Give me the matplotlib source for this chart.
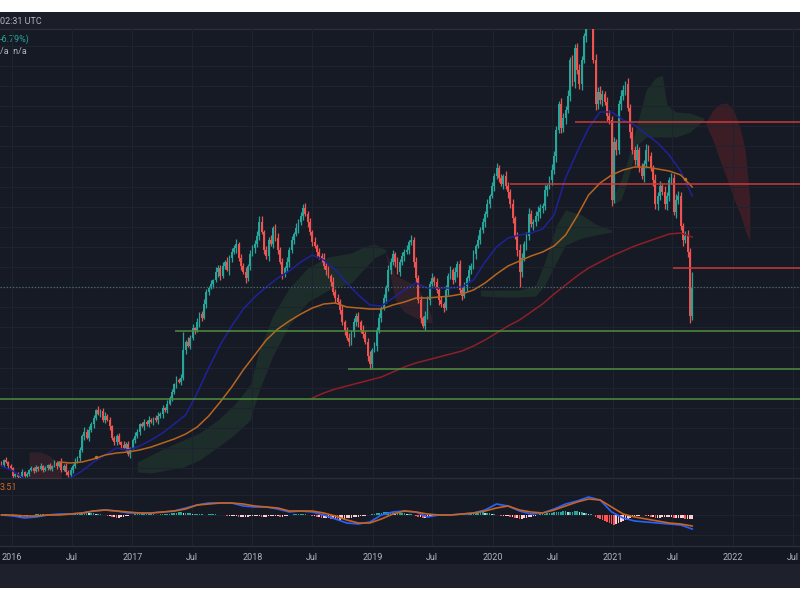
import numpy as np
import matplotlib
matplotlib.use('Agg')
import matplotlib.pyplot as plt
import matplotlib.dates as mdates
from matplotlib.patches import Rectangle

plt.rcParams['font.family'] = ['Liberation Sans Narrow', 'DejaVu Sans Condensed', 'Roboto',
                               'DejaVu Sans']

#%% Weekly candles, closes (arbitrary price units)
start = np.datetime64('2015-11-30')
first_open = 15
closes = [
    13, 18, 16, 12, 10, 2, 4, 1, 2, 6,
    2, 4, 8, 10, 7, 11, 9, 12, 8, 10,
    13, 9, 12, 15, 12, 16, 8, 12, 6, 3,
    8, 12, 16, 20, 28, 42, 46, 40, 48, 54,
    60, 68, 64, 67, 58, 62, 58, 52, 40, 36,
    42, 36, 33, 30, 34, 24, 30, 38, 42, 46,
    54, 52, 56, 54, 58, 56, 60, 58, 62, 64,
    70, 68, 74, 80, 86, 94, 98, 96, 100, 128,
    136, 132, 140, 150, 148, 156, 164, 160, 174, 186,
    190, 194, 198, 206, 210, 202, 212, 216, 208, 220,
    226, 230, 234, 220, 212, 206, 200, 212, 224, 230,
    234, 242, 256, 246, 228, 222, 238, 234, 250, 240,
    228, 216, 204, 210, 216, 228, 238, 244, 250, 256,
    262, 270, 264, 256, 246, 236, 232, 226, 222, 220,
    212, 208, 202, 196, 186, 180, 176, 168, 156, 148,
    140, 136, 146, 156, 162, 156, 148, 144, 136, 122,
    114, 128, 132, 148, 160, 170, 180, 190, 208, 216,
    224, 216, 206, 216, 222, 226, 228, 236, 238, 216,
    200, 178, 160, 152, 162, 178, 194, 200, 196, 188,
    178, 174, 170, 188, 202, 208, 198, 206, 214, 188,
    182, 192, 200, 208, 212, 224, 232, 238, 248, 256,
    264, 274, 282, 292, 302, 310, 300, 294, 302, 292,
    286, 274, 260, 242, 228, 206, 220, 234, 242, 264,
    254, 256, 262, 266, 270, 272, 288, 292, 298, 308,
    322, 348, 374, 350, 360, 368, 382, 418, 396, 430,
    408, 394, 418, 442, 463, 473, 468, 418, 374, 386,
    378, 384, 376, 362, 358, 278, 336, 328, 374, 382,
    388, 394, 370, 346, 328, 318, 328, 310, 302, 314,
    328, 322, 310, 298, 274, 282, 292, 286, 274, 282,
    298, 300, 266, 278, 282, 252, 238, 242, 226, 162,
    190,
]
# wick lengths above / below the body, one digit per week
wick_hi = ("21312112131212121312121321423232423253423142342312"
           "23142312431232421342314231424325341423532415334253"
           "43524352434536243524534253425342534252435342534352"
           "35243425345243524354425343524353425435243425342534"
           "34253425343524353425435246534643564352465436546354"
           "56436453656435645346536454635465436453643546543564"
           "5")
wick_lo = ("12131212121121212121212131213223213241324213231423"
           "32413241323142313242423132413241324253143142542315"
           "42534253425342435243425345342534253425343524352435"
           "24354534253425342534352435243543524352435342534253"
           "42534352435342534253645364536436456546354635463546"
           "45636543654635463546453645643645365643565436446354"
           "4")
wick_top = {79: 146, 112: 262, 131: 274, 178: 243, 215: 315, 300: 206}
wick_bottom = {160: 109, 225: 191, 299: 155}

#%% Moving averages, sampled every 5 weeks
blue_ma = [12, 7, -1, -5, -6, -4, 0, 7, 16, 23, 30, 28, 32, 38, 45, 54, 63, 85, 110, 133,
           152, 169, 181, 191, 200, 207, 216, 223, 218, 208, 195, 183, 173, 172, 180, 188,
           195, 190, 190, 190, 191, 198, 216, 231, 240, 243, 245, 249, 263, 300, 326, 350,
           366, 366, 358, 353, 344, 335, 323, 307, 282]
orange_ma_start = 25
orange_ma = [16, 15, 16, 19, 23, 25, 26, 28, 31, 35, 39, 44, 51, 62, 76, 91, 108, 123, 138,
             149, 157, 164, 170, 174, 175, 171, 170, 169, 169, 173, 176, 180, 180, 181, 182,
             184, 188, 195, 204, 212, 217, 222, 226, 232, 243, 262, 283, 295, 303, 308, 311,
             311, 309, 307, 303, 291]
red_ma_start = 135
red_ma = [80, 85, 89, 92, 95, 98, 101, 106, 111, 115, 118, 121, 124, 127, 132, 138, 145, 152,
          158, 166, 174, 184, 193, 202, 210, 216, 222, 227, 232, 236, 240, 244, 245, 241]
cross_week = [41, 297]
cross_level = [21, 299]

#%% Cloud outlines (week index, upper, lower)
clouds = [
    ('green', [59, 65, 72, 79, 86, 94, 101, 108, 112, 118, 125, 133, 142, 152, 157, 162, 167],
     [16, 23, 31, 38, 45, 58, 73, 93, 128, 163, 190, 210, 221, 225, 231, 234, 228],
     [6, 5, 8, 11, 18, 31, 43, 58, 88, 123, 153, 176, 188, 195, 208, 220, 226]),
    ('red', [12, 17, 21, 24, 26], [26, 26, 22, 16, 8], [-5, -5, -5, -5, -5]),
    ('red', [167, 171, 175, 180, 184, 187], [226, 203, 198, 193, 178, 160],
     [223, 178, 166, 160, 156, 155]),
    ('green', [208, 217, 225, 232, 236, 241, 245, 252, 258, 265],
     [188, 188, 188, 193, 216, 253, 268, 263, 254, 248],
     [182, 181, 181, 182, 193, 216, 233, 240, 243, 246]),
    ('green', [265, 269, 272, 276, 280, 284, 287, 289, 293, 299, 305],
     [278, 298, 318, 353, 388, 400, 403, 373, 366, 365, 360],
     [273, 278, 298, 333, 341, 341, 341, 341, 341, 346, 358]),
    ('red2', [306, 309, 312, 315, 318, 321, 323, 325],
     [356, 368, 374, 375, 368, 348, 328, 278],
     [353, 338, 318, 300, 280, 263, 248, 236]),
]

#%% Horizontal levels (level, first week)
support = [(147, 75.4), (109, 150.7), (79, -1)]
resistance = [(356, 249.3), (294, 221), (210, 291.5)]
price_line = 191

#%% MACD, sampled every 5 weeks, histogram weekly
macd = [0, -1, -3, -2, 0, 1, 1, 2, 4, 5, 4, 2, 2, 2, 3, 4, 7, 10, 12, 12, 12, 9, 8, 8, 6, 3,
        4, 3, 0, -4, -8, -9, -7, 0, 3, 4, 3, -2, 0, 0, 1, 2, 5, 11, 9, 4, 1, 2, 6, 11, 14,
        18, 15, 3, -3, -6, -7, -8, -9, -10, -14]
signal = [0, 0, -1, -1, 0, 0, 1, 2, 4, 5, 4, 3, 2, 2, 3, 4, 6, 10, 11, 12, 12, 11, 9, 8, 7,
          4, 4, 4, 2, -1, -5, -8, -8, -4, 1, 4, 3, 1, 0, 0, 1, 2, 4, 7, 9, 5, 3, 2, 5, 9, 13,
          16, 15, 8, 1, -2, -4, -6, -8, -9, -11]
hist = [
    1, 1, 1, 0, -1, -1, -1, -2, -2, -1,
    -1, -1, 0, 0, 0, 1, 1, 1, 1, 0,
    0, 0, 1, 1, 1, 0, 0, 0, 1, 1,
    1, 1, 1, 2, 2, 3, 3, 3, 2, 2,
    2, 1, 1, 1, 0, 0, -1, -1, -2, -2,
    -3, -3, -2, -2, -1, -1, 0, 0, 1, 1,
    1, 1, 1, 1, 1, 1, 1, 0, 0, 1,
    1, 1, 1, 1, 2, 2, 2, 3, 3, 2,
    2, 2, 2, 1, 1, 1, 1, 1, 0, 0,
    1, 1, 1, 1, 0, 0, 0, 0, -1, -1,
    -1, -1, -1, -2, -2, -2, -2, -2, -1, -1,
    -1, -1, -1, -2, -2, -2, -1, -1, -1, -1,
    -1, -2, -2, -1, -1, 0, 0, 1, 1, 1,
    1, 1, 1, 0, 0, -1, -1, -2, -2, -3,
    -3, -3, -3, -4, -4, -4, -5, -5, -4, -4,
    -3, -3, -3, -2, -2, -2, -1, -1, -1, 0,
    0, 1, 1, 2, 2, 2, 3, 3, 3, 3,
    3, 2, 2, 2, 2, 2, 1, 1, 1, 0,
    -1, -2, -2, -3, -3, -2, -2, -1, -1, -1,
    0, 0, -1, -1, 0, 0, 0, 1, 0, 0,
    1, 1, 1, 2, 2, 2, 3, 3, 3, 3,
    2, 2, 2, 1, 1, 0, 0, -1, -1, -1,
    -1, -2, -2, -3, -3, -4, -4, -3, -3, -2,
    -2, -1, -1, 0, 1, 1, 1, 2, 2, 2,
    3, 3, 3, 3, 4, 4, 3, 3, 3, 4,
    4, 3, 3, 2, 2, 1, 1, 0, -2, -3,
    -4, -5, -6, -7, -8, -9, -10, -9, -8, -7,
    -6, -5, -4, -3, -2, -2, -1, -1, 0, 0,
    -1, -1, -2, -2, -3, -3, -3, -2, -2, -2,
    -2, -2, -3, -3, -3, -3, -3, -4, -4, -4,
    -4,
]

time_ticks = ['2016-01-01', '2016-07-01', '2017-01-01', '2017-07-01', '2018-01-01',
              '2018-07-01', '2019-01-01', '2019-07-01', '2020-01-01', '2020-07-01',
              '2021-01-01', '2021-07-01', '2022-01-01', '2022-07-01']
time_labels = ['2016', 'Jul', '2017', 'Jul', '2018', 'Jul', '2019', 'Jul', '2020', 'Jul',
               '2021', 'Jul', '2022', 'Jul']

#%% Colours
BG = '#161a25'
GRID = '#1f2330'
UP = '#26a69a'
DOWN = '#ef5350'
TXT = '#b2b5be'

#%% Derived candle arrays
t0 = mdates.date2num(start)
closes = np.array(closes, dtype=float)
n = len(closes)
xk = t0 + 7 * np.arange(n)
opens = np.r_[first_open, closes[:-1]]
w_hi = np.array([int(c) for c in wick_hi])
w_lo = np.array([int(c) for c in wick_lo])
highs = np.maximum(opens, closes) + w_hi
lows = np.minimum(opens, closes) - w_lo
for k, v in wick_top.items():
    highs[k] = v
for k, v in wick_bottom.items():
    lows[k] = v
up = closes >= opens
cols = np.where(up, UP, DOWN)

#%% Figure
fig = plt.figure(figsize=(8, 6), dpi=100)
fig.patch.set_facecolor('white')
bg = fig.add_axes([0, 0, 1, 1])
bg.set_xlim(0, 800)
bg.set_ylim(600, 0)
bg.axis('off')
bg.add_patch(Rectangle((0, 12), 800, 576, color=BG, lw=0))
bg.add_patch(Rectangle((0, 12), 800, 17, color='#1b1e29', lw=0))
bg.add_patch(Rectangle((0, 546), 800, 18, color='#131722', lw=0))
bg.add_patch(Rectangle((0, 564), 800, 24, color='#1e212b', lw=0))
for yy in (29, 478, 546):
    bg.axhline(yy, color='#2a2e39', lw=1)

xmin = mdates.date2num(np.datetime64('2016-01-01')) - 36.5
xmax = xmin + 800 / 0.32892

ax = fig.add_axes([0, 122 / 600, 1, 449 / 600])
ax.set_facecolor('none')
ax.set_xlim(xmin, xmax)
ax.set_ylim(0, 449)
tick_x = mdates.date2num(np.array(time_ticks, dtype='datetime64[D]'))
ax.set_xticks(tick_x)
ax.set_yticks(np.arange(10, 440, 20.1))
ax.tick_params(length=0, labelbottom=False, labelleft=False)
ax.grid(color=GRID, lw=0.8, zorder=0)
for s in ax.spines.values():
    s.set_visible(False)

# clouds
cloud_cols = {'green': ('#4caf50', 0.13), 'red': ('#ef5350', 0.12), 'red2': ('#c62828', 0.22)}
for kind, ks, upper, lower in clouds:
    c, a = cloud_cols[kind]
    ax.fill_between(t0 + 7 * np.array(ks, dtype=float), upper, lower, color=c, alpha=a,
                    lw=0, zorder=1)

# candles
ax.vlines(xk, lows, highs, colors=cols, lw=0.9, zorder=2)
body = np.maximum(np.abs(closes - opens), 0.8)
ax.bar(xk, body, bottom=np.minimum(opens, closes), width=5.6, color=cols, lw=0, zorder=2)

# moving averages
ax.plot(xk[::5], blue_ma, color='#1f2299', lw=1.1, zorder=3)
ax.plot(xk[orange_ma_start::5], orange_ma, color='#b8661f', lw=1.1, zorder=3)
ax.plot(xk[red_ma_start::5], red_ma, color='#8e1f27', lw=1.1, zorder=3)
ax.scatter(xk[cross_week], cross_level, s=6, color='#c8741e', zorder=4, lw=0)

# drawn levels
for lvl, k0 in support:
    ax.hlines(lvl, t0 + 7 * k0, xmax, color='#4f8f3e', lw=1.1, zorder=4)
for lvl, k0 in resistance:
    ax.hlines(lvl, t0 + 7 * k0, xmax, color='#c73b3b', lw=1.1, zorder=4)
ax.axhline(price_line, color='#4d6a70', lw=0.9, ls=(0, (1, 1.5)), zorder=4)

# MACD panel
ax2 = fig.add_axes([0, 54 / 600, 1, 68 / 600])
ax2.set_facecolor('none')
ax2.set_xlim(xmin, xmax)
ax2.set_ylim(-31, 37)
ax2.set_xticks(tick_x)
ax2.set_xticklabels(time_labels)
ax2.set_yticks([-20, 0, 20])
ax2.tick_params(axis='x', length=0, pad=5, labelsize=6.5, labelcolor=TXT)
ax2.tick_params(axis='y', length=0, labelleft=False)
ax2.grid(color=GRID, lw=0.8, zorder=0)
for s in ax2.spines.values():
    s.set_visible(False)

hist = np.array(hist, dtype=float)
prev = np.r_[hist[0], hist[:-1]]
hcols = np.where(hist >= 0, np.where(hist >= prev, '#26a69a', '#b2dfdb'),
                 np.where(hist < prev, '#ff5252', '#ffcdd2'))
ax2.bar(xk, hist, width=5.0, color=hcols, lw=0, zorder=2)
ax2.plot(xk[::5], macd, color='#2962ff', lw=1.2, zorder=3)
ax2.plot(xk[::5], signal, color='#c8641e', lw=1.2, zorder=3)

# header texts
bg.text(0, 21, '02:31 UTC', color=TXT, fontsize=6.5, va='center', ha='left')
bg.text(0, 39, '-6.79%)', color='#26a69a', fontsize=6.5, va='center', ha='left')
bg.text(0, 51, '/a  n/a', color=TXT, fontsize=6.5, va='center', ha='left')
bg.text(0, 488, '3.51', color='#d2691e', fontsize=6.5, va='center', ha='left')

fig.savefig('out.png', dpi=100, facecolor='white')
